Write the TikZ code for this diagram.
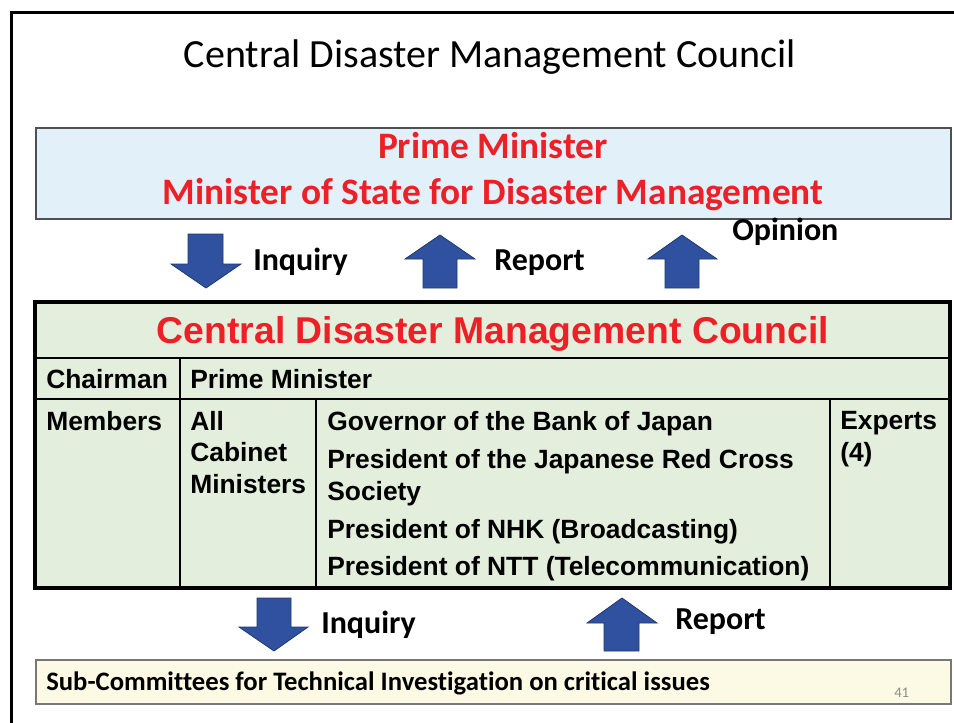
\documentclass[tikz,border=0pt]{standalone}
\usepackage{fontspec}
\usepackage{xcolor}
\setmainfont{Carlito}[Ligatures=NoCommon]
\newfontfamily\arialfont{Liberation Sans}

\definecolor{cdred}{RGB}{236,32,38}
\definecolor{pmblue}{RGB}{226,240,250}
\definecolor{cdgreen}{RGB}{227,239,220}
\definecolor{subyellow}{RGB}{252,250,228}
\definecolor{arrowfill}{RGB}{47,81,160}
\definecolor{arrowline}{RGB}{31,56,110}

\begin{document}
\begin{tikzpicture}[x=0.75pt,y=0.75pt,yscale=-1,xscale=1,
  blockarrow/.style={fill=arrowfill,draw=arrowline,line width=0.6pt},
  lbl/.style={anchor=base west,inner sep=0pt,font=\fontsize{24pt}{28pt}\selectfont\bfseries},
  cell/.style={anchor=base west,inner sep=0pt,align=left,font=\arialfont\fontsize{19.8pt}{24pt}\selectfont\bfseries}]

\useasboundingbox (0,0) rectangle (954,722);

% slide frame
\draw [line width=2.25pt]  (11,730) -- (11,12) -- (960,12) ;
\draw (490,67) node (title) [anchor=base,inner sep=0pt] {\fontsize{30pt}{35pt}\selectfont Central Disaster Management Council};

% prime minister box
\draw [fill=pmblue,draw={rgb,255:red,80;green,80;blue,80},line width=1pt]  (36,128) rectangle (951,219) ;
\draw (493,158) node (pm) [anchor=base,inner sep=0pt,text=cdred] {\fontsize{28pt}{33pt}\selectfont\bfseries Prime Minister};
\draw (493,204) node (mos) [anchor=base,inner sep=0pt,text=cdred] {\fontsize{28pt}{33pt}\selectfont\bfseries Minister of State for Disaster Management};

% arrows between minister and council
\draw [blockarrow]  (188,234) -- (223,234) -- (223,264) -- (241,264) -- (206,288) -- (171,264) -- (188,264) -- cycle ;
\draw (253,270) node (inq1) [lbl] {Inquiry};
\draw [blockarrow]  (423,288) -- (457,288) -- (457,259) -- (475,259) -- (440,235) -- (405,259) -- (423,259) -- cycle ;
\draw (494,270) node (rep1) [lbl] {Report};
\draw [blockarrow]  (665,288) -- (699,288) -- (699,259) -- (717,259) -- (682,235) -- (648,259) -- (665,259) -- cycle ;
\draw (732,240) node (opin) [lbl] {Opinion};

% council table
\draw [fill=cdgreen,draw=none]  (35,302) rectangle (950,588) ;
\draw [line width=1.8pt]  (35,358) -- (950,358) ;
\draw [line width=1.8pt]  (35,399) -- (950,399) ;
\draw [line width=1.8pt]  (180,358) -- (180,588) ;
\draw [line width=1.8pt]  (316,399) -- (316,588) ;
\draw [line width=1.8pt]  (830,399) -- (830,588) ;
\draw [line width=3pt]  (35,302) rectangle (950,588) ;

\draw (493,343) node (council) [anchor=base,inner sep=0pt,text=cdred] {\arialfont\fontsize{28pt}{32pt}\selectfont\bfseries Central Disaster Management Council};
\draw (46,388) node (chair) [cell] {Chairman};
\draw (190,388) node (chairpm) [cell] {Prime Minister};
\draw (46,430) node (members) [cell] {Members};
% multi-line cells sit on the baseline of their last line
\draw (190,493) node (cabinet) [cell,font=\arialfont\fontsize{19.8pt}{23.6pt}\selectfont\bfseries] {All\\Cabinet\\Ministers};
\draw (327,430) node (gov) [cell] {Governor of the Bank of Japan};
\draw (327,500) node (redcross) [cell] {President of the Japanese Red Cross\\Society};
\draw (327,538) node (nhk) [cell] {President of NHK (Broadcasting)};
\draw (327,575) node (ntt) [cell] {President of NTT (Telecommunication)};
\draw (840,461) node (experts) [cell,font=\arialfont\fontsize{19.8pt}{23.6pt}\selectfont\bfseries] {Experts\\(4)};

% arrows between council and sub-committees
\draw [blockarrow]  (257,598) -- (291,598) -- (291,627) -- (308,627) -- (274,651) -- (239,627) -- (257,627) -- cycle ;
\draw (321,633) node (inq2) [lbl] {Inquiry};
\draw [blockarrow]  (604,651) -- (639,651) -- (639,623) -- (657,623) -- (622,598) -- (587,623) -- (604,623) -- cycle ;
\draw (675,629) node (rep2) [lbl] {Report};

% sub-committees
\draw [fill=subyellow,draw={rgb,255:red,120;green,120;blue,120},line width=0.8pt]  (36,660) rectangle (951,704) ;
\draw (46,690) node (subcom) [anchor=base west,inner sep=0pt] {\fontsize{20pt}{24pt}\selectfont\bfseries Sub-Committees for Technical Investigation on critical issues};
\draw (894,697) node (pageno) [anchor=base west,inner sep=0pt,text={rgb,255:red,140;green,140;blue,140}] {\fontsize{11pt}{13pt}\selectfont 41};

\end{tikzpicture}
\end{document}
